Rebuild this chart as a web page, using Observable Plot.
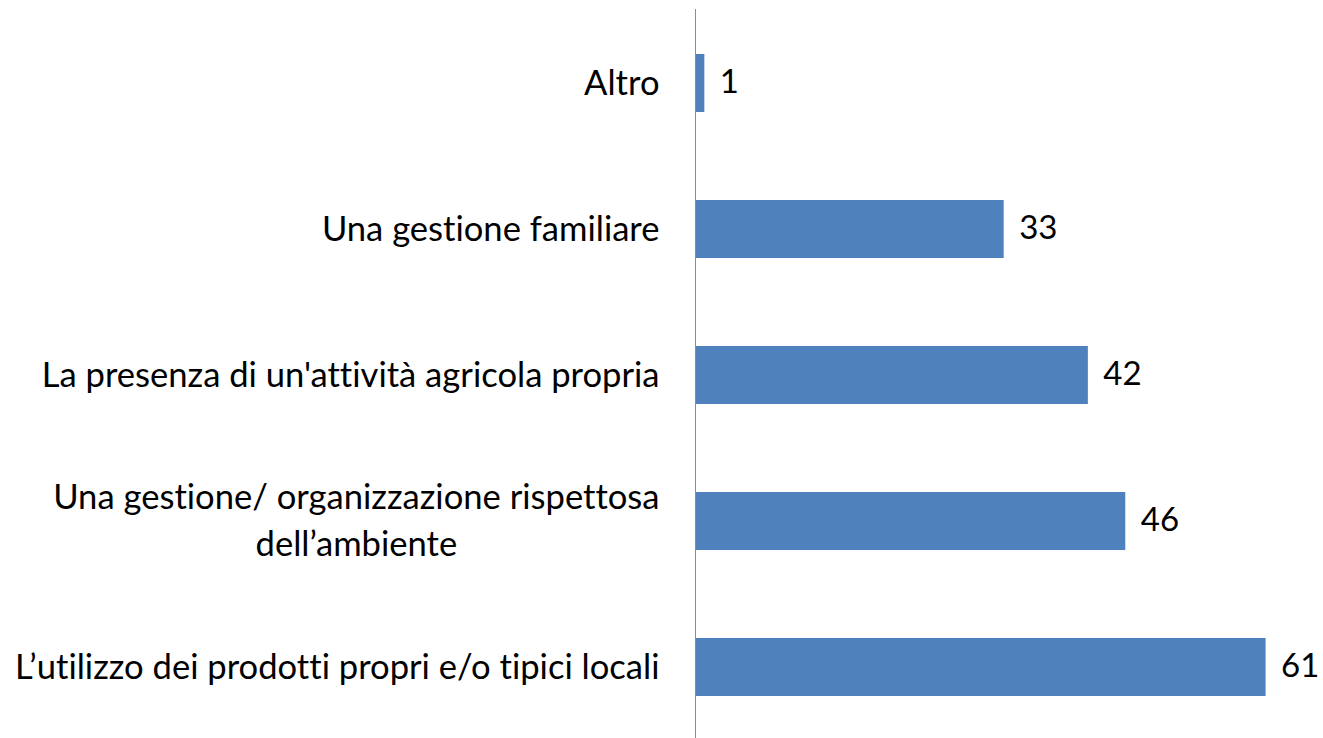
<!DOCTYPE html>
<html>
<head>
<meta charset="utf-8">
<script src="https://cdn.jsdelivr.net/npm/d3@7"></script>
<script src="https://cdn.jsdelivr.net/npm/@observablehq/plot@0.6"></script>
<style>
  html, body { margin: 0; padding: 0; background: #fff; }
  #chart { width: 1323px; height: 738px; overflow: hidden; }
  #chart svg text { font-variant-ligatures: none; font-feature-settings: "liga" 0, "clig" 0; }
</style>
</head>
<body>
<div id="chart"></div>
<script>
const categories = [
  "Altro",
  "Una gestione familiare",
  "La presenza di un'attività agricola propria",
  "Una gestione/ organizzazione rispettosa\ndell’ambiente",
  "L’utilizzo dei prodotti propri e/o tipici locali"
];
const values = [1, 33, 42, 46, 61];

const data = categories.map((c, i) => ({category: c, value: values[i]}));

const chart = Plot.plot({
  width: 1323,
  height: 738,
  marginLeft: 695,
  marginRight: 20,
  marginTop: 9,
  marginBottom: -3,
  style: {fontFamily: "Lato, 'Open Sans', sans-serif", fontSize: "34.6px", color: "#000", background: "#fff"},
  x: {domain: [0, 65], axis: null},
  y: {domain: categories, paddingInner: 0.6, paddingOuter: 0.3, label: null},
  marks: [
    Plot.barX(data, {x: "value", y: "category", fill: "#4F81BD"}),
    Plot.ruleX([0], {stroke: "#8c8c8c", strokeWidth: 1}),
    Plot.axisY({tickSize: 0, tickPadding: 36, fontSize: 34.6, lineHeight: 1.36, dy: -4, fill: "#000", textAnchor: "end"}),
    Plot.text(data, {x: "value", y: "category", text: d => String(d.value), textAnchor: "start", dx: 15, dy: -1, fontSize: 33, fill: "#000"})
  ]
});

document.getElementById("chart").append(chart);

// center multi-line tick labels within their block (as in the original)
chart.querySelectorAll("text").forEach(t => {
  const spans = t.querySelectorAll("tspan");
  if (spans.length > 1) {
    const bb = t.getBBox();
    t.setAttribute("text-anchor", "middle");
    spans.forEach(s => s.setAttribute("x", bb.x + bb.width / 2));
  }
});
</script>
</body>
</html>
